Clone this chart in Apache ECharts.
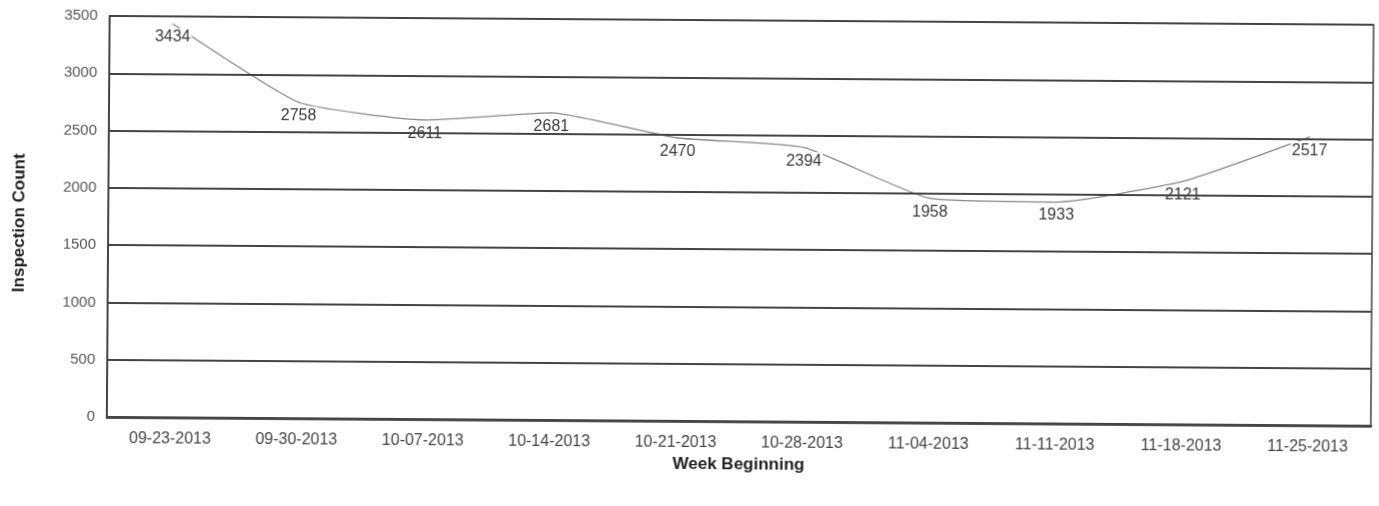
<!DOCTYPE html>
<html>
<head>
<meta charset="utf-8">
<script src="https://cdn.jsdelivr.net/npm/echarts@6/dist/echarts.min.js"></script>
<style>
  html, body { margin: 0; padding: 0; background: #fff; }
  /* the printed page sits very slightly rotated */
  #chart { width: 1379px; height: 506px; transform: rotate(0.4deg); transform-origin: 50% 50%; }
</style>
</head>
<body>
<div id="chart"></div>
<script>
// Weekly inspection counts
const weekLabels = ['09-23-2013', '09-30-2013', '10-07-2013', '10-14-2013', '10-21-2013',
                    '10-28-2013', '11-04-2013', '11-11-2013', '11-18-2013', '11-25-2013'];
const inspectionCounts = [3434, 2758, 2611, 2681, 2470, 2394, 1958, 1933, 2121, 2517];
const yTickValues = [0, 500, 1000, 1500, 2000, 2500, 3000, 3500];

const FONT = '"Liberation Sans", Arial, sans-serif';
const chart = echarts.init(document.getElementById('chart'), null, { renderer: 'canvas' });

chart.setOption({
  backgroundColor: '#ffffff',
  animation: false,
  grid: {
    left: 108, right: 7, top: 20, height: 401,
    show: true, borderColor: '#444', borderWidth: 1.5, backgroundColor: 'transparent'
  },
  xAxis: {
    type: 'category',
    data: weekLabels,
    boundaryGap: true,
    name: 'Week Beginning',
    nameLocation: 'middle',
    nameGap: 30,
    nameTextStyle: { fontFamily: FONT, fontSize: 17, fontWeight: 'bold', color: '#222' },
    axisLine: { show: true, lineStyle: { color: '#222', width: 2.5 } },
    axisTick: { show: false },
    axisLabel: { margin: 14, fontFamily: FONT, fontSize: 16, color: '#444', interval: 0 }
  },
  yAxis: {
    type: 'value',
    z: 5,
    min: yTickValues[0],
    max: yTickValues[yTickValues.length - 1],
    interval: yTickValues[1] - yTickValues[0],
    name: 'Inspection Count',
    nameLocation: 'middle',
    nameGap: 80,
    nameTextStyle: { fontFamily: FONT, fontSize: 17, fontWeight: 'bold', color: '#222', padding: [0, 14, 0, 0] },
    axisLine: { show: true, lineStyle: { color: '#444', width: 2 } },
    axisTick: { show: false },
    axisLabel: {
      margin: 12, fontFamily: FONT, fontSize: 15, color: '#555',
      formatter: (v) => String(v)
    },
    splitLine: { show: true, lineStyle: { color: '#444', width: 2 } }
  },
  series: [{
    type: 'line',
    z: 2,
    data: inspectionCounts,
    smooth: 0.15,
    symbol: 'circle',
    symbolSize: 1,
    itemStyle: { color: '#888' },
    lineStyle: { color: '#888', width: 1.3 },
    label: {
      show: true,
      position: 'bottom',
      distance: 4,
      fontFamily: FONT,
      fontSize: 16,
      color: '#3a3a3a',
      backgroundColor: '#ffffff',
      padding: [1, 1]
    }
  }]
});
</script>
</body>
</html>
